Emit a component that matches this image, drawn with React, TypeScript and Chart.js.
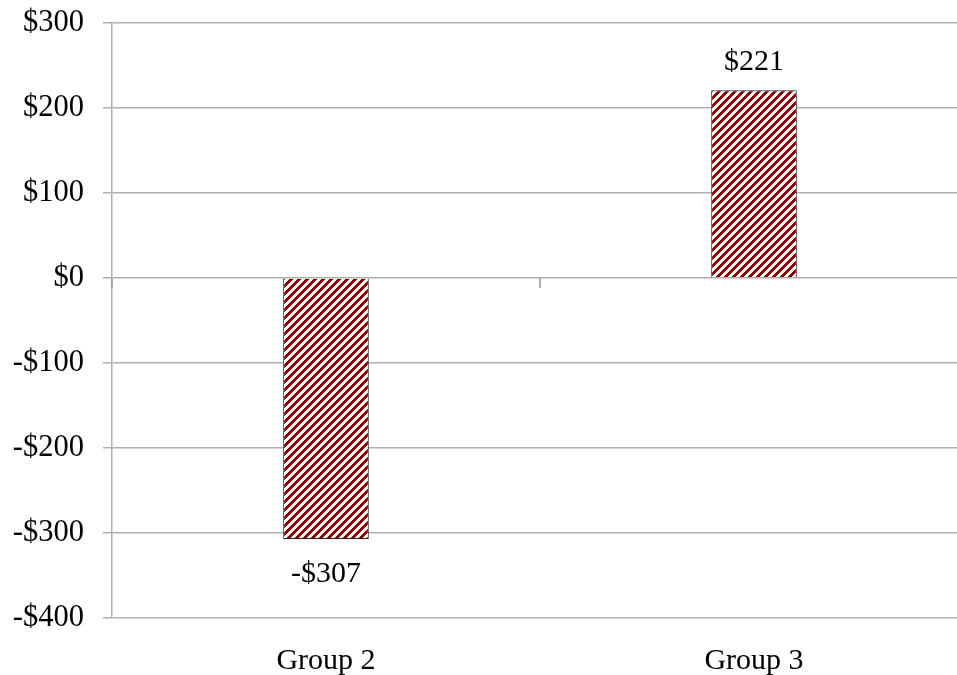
import React, { useEffect, useRef } from "react";
import { Chart, registerables } from "chart.js";

Chart.register(...registerables);

const categories = ["Group 2", "Group 3"];
const values = [-307, 221];
const yTicks = [-400, -300, -200, -100, 0, 100, 200, 300];

const FONT = "'Liberation Serif', 'Times New Roman', serif";

function fmt(v: number) {
  return v < 0 ? "-$" + Math.abs(v) : "$" + v;
}

function makePattern(ctx: CanvasRenderingContext2D) {
  const c = document.createElement("canvas");
  c.width = 8;
  c.height = 8;
  const g = c.getContext("2d")!;
  g.fillStyle = "#ffffff";
  g.fillRect(0, 0, 8, 8);
  g.fillStyle = "#8b0000";
  for (let x = 0; x < 8; x++) {
    for (let y = 0; y < 8; y++) {
      if ((x + y) % 8 < 4) g.fillRect(x, y, 1, 1);
    }
  }
  return ctx.createPattern(c, "repeat")!;
}

const decorPlugin = {
  id: "decor",
  afterDatasetsDraw(chart: any) {
    const ctx = chart.ctx;
    const xs = chart.scales.x;
    const ys = chart.scales.y;
    const y0 = ys.getPixelForValue(0);
    ctx.save();
    ctx.strokeStyle = "#9a9a9a";
    ctx.lineWidth = 1.5;
    const n = chart.data.labels.length;
    const w = (xs.right - xs.left) / n;
    for (let i = 0; i <= n; i++) {
      const x = xs.left + i * w;
      ctx.beginPath();
      ctx.moveTo(x, y0);
      ctx.lineTo(x, y0 + 10);
      ctx.stroke();
    }
    ctx.fillStyle = "#000";
    ctx.font = `30px ${FONT}`;
    ctx.textAlign = "center";
    ctx.textBaseline = "middle";
    const meta = chart.getDatasetMeta(0);
    meta.data.forEach((el: any, i: number) => {
      const v = chart.data.datasets[0].data[i];
      if (v >= 0) {
        ctx.fillText(fmt(v), el.x, el.y - 28);
      } else {
        ctx.fillText(fmt(v), el.x, el.y + 35);
      }
    });
    ctx.restore();
  },
};

export default function App() {
  const ref = useRef<HTMLCanvasElement>(null);
  useEffect(() => {
    const canvas = ref.current!;
    const ctx = canvas.getContext("2d")!;
    const pattern = makePattern(ctx);
    const chart = new Chart(canvas, {
      type: "bar",
      data: {
        labels: categories,
        datasets: [
          {
            data: values,
            backgroundColor: pattern as any,
            borderColor: "#222",
            borderWidth: 1,
            barPercentage: 0.4,
            categoryPercentage: 0.5,
          },
        ],
      },
      options: {
        responsive: false,
        animation: false,
        devicePixelRatio: 1,
        layout: { padding: { top: 23, right: 0, left: 0, bottom: 0 } },
        plugins: { legend: { display: false }, tooltip: { enabled: false } },
        scales: {
          x: {
            grid: { display: false },
            border: { display: false },
            ticks: {
              color: "#000",
              font: { family: FONT, size: 30 },
              padding: 17,
              maxRotation: 0,
            },
            afterFit: (s: any) => {
              s.height = 57;
              s.paddingLeft = 0;
              s.paddingRight = 0;
            },
          },
          y: {
            min: Math.min(...yTicks),
            max: Math.max(...yTicks),
            afterBuildTicks: (s: any) => {
              s.ticks = yTicks.map((v) => ({ value: v }));
            },
            grid: {
              color: "#b0b0b0",
              lineWidth: 1.5,
              tickLength: 9,
              drawTicks: true,
            },
            border: { display: true, color: "#b0b0b0", width: 1.5 },
            ticks: {
              color: "#000",
              font: { family: FONT, size: 30.5 },
              padding: 19,
              callback: (v: any) => fmt(Number(v)),
            },
            afterFit: (s: any) => {
              s.width = 112;
              s.paddingTop = 0;
              s.paddingBottom = 0;
            },
          },
        },
      },
      plugins: [decorPlugin],
    });
    return () => chart.destroy();
  }, []);
  return (
    <div
      style={{
        position: "fixed",
        left: 0,
        top: 0,
        width: 957,
        height: 675,
        overflow: "hidden",
        background: "#fff",
      }}
    >
      <canvas ref={ref} width={968} height={675} style={{ display: "block" }} />
    </div>
  );
}
